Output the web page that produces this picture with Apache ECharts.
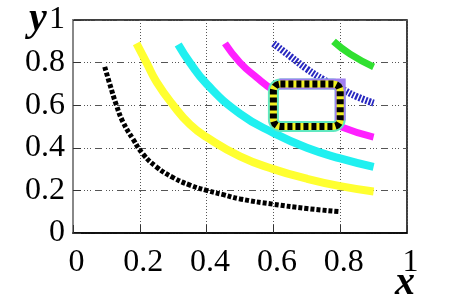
<!DOCTYPE html>
<html><head><meta charset="utf-8">
<script src="https://cdn.jsdelivr.net/npm/echarts@6/dist/echarts.min.js"></script>
<style>html,body{margin:0;padding:0;background:#fff}#c{width:462px;height:296px}</style>
</head><body><div id="c"></div>
<script>
var xTicks = ['0','0.2','0.4','0.6','0.8','1'];
var yTicks = ['0','0.2','0.4','0.6','0.8','1'];
var blackX = [0.095,0.11,0.13,0.15,0.18,0.21,0.25,0.3,0.35,0.4,0.45,0.5,0.6,0.7,0.8];
var blackY = [0.78,0.70,0.60,0.52,0.44,0.37,0.31,0.26,0.225,0.2,0.18,0.16,0.135,0.115,0.1];
var yellowX = [0.19,0.22,0.25,0.3,0.35,0.4,0.5,0.6,0.7,0.8,0.9];
var yellowY = [0.89,0.80,0.71,0.60,0.51,0.45,0.36,0.30,0.255,0.22,0.195];
var cyanX = [0.315,0.35,0.4,0.5,0.6,0.7,0.8,0.9];
var cyanY = [0.885,0.80,0.70,0.56,0.47,0.40,0.35,0.31];
var magentaX = [0.455,0.5,0.55,0.6,0.7,0.8,0.9];
var magentaY = [0.89,0.80,0.73,0.67,0.575,0.50,0.45];
var blueX = [0.6,0.65,0.7,0.75,0.8,0.85,0.9];
var blueY = [0.89,0.83,0.77,0.72,0.68,0.64,0.61];
var greenX = [0.78,0.83,0.9];
var greenY = [0.90,0.84,0.78];
var rectBox = [0.6,0.5,0.8,0.7];

function pts(xs, ys){ return xs.map(function(x,i){return [x, ys[i]];}); }
var chart = echarts.init(document.getElementById('c'));
var FONT = 'Liberation Serif';
function curve(name, xs, ys, color, width, dash){
  return {type:'line', name:name, data:pts(xs,ys), smooth:true, symbol:'none', z:3,
    lineStyle:{color:color, width:width, type: dash || 'solid', cap:'butt'}};
}
var labelStyle = {fontFamily:FONT, fontSize:32, fontWeight:'normal', color:'#000'};
chart.setOption({
  animation:false,
  backgroundColor:'#fff',
  textStyle:{fontFamily:FONT},
  grid:{left:73, right:55, top:20, bottom:63, show:true, borderColor:'#000', borderWidth:1.5, backgroundColor:'transparent'},
  xAxis:{type:'value', min:0, max:1, interval:0.2,
    axisLine:{show:true, lineStyle:{color:'#000', width:1.5}},
    axisTick:{show:true, inside:true, length:8, lineStyle:{color:'#333'}},
    axisLabel:Object.assign({margin:14, padding:[0,0,0,7], formatter:function(v){ return xTicks[Math.round(v/0.2)]; }}, labelStyle),
    splitLine:{show:true, lineStyle:{color:'#555', width:1, type:[1,2]}}},
  yAxis:{type:'value', min:0, max:1, interval:0.2,
    axisLine:{show:true, lineStyle:{color:'#888', width:2}},
    axisTick:{show:true, inside:true, length:8, lineStyle:{color:'#333'}},
    axisLabel:Object.assign({margin:8, formatter:function(v){ return yTicks[Math.round(v/0.2)]; }}, labelStyle),
    splitLine:{show:true, lineStyle:{color:'#555', width:1, type:[7,4,1,2,1,2,1,4]}}},
  graphic:[
    {type:'text', left:29, top:0, style:{text:'y', font:'italic bold 40px "Liberation Serif"', fill:'#000'}},
    {type:'text', left:395, top:264, style:{text:'x', font:'italic bold 40px "Liberation Serif"', fill:'#000'}}
  ],
  series:[
    curve('k', blackX, blackY, '#000', 5, [4,2]),
    curve('y', yellowX, yellowY, '#ffff30', 8),
    curve('c', cyanX, cyanY, '#20f0f0', 8),
    curve('m', magentaX, magentaY, '#ff20ff', 7),
    curve('b', blueX, blueY, '#2828c0', 7, [2,1.5]),
    curve('g', greenX, greenY, '#30e030', 7),
    {type:'custom', z:5, data:[rectBox],
      renderItem:function(params, api){
        var p0 = api.coord([api.value(0), api.value(3)]);
        var p1 = api.coord([api.value(2), api.value(1)]);
        var shape = {x:p0[0], y:p0[1], width:p1[0]-p0[0], height:p1[1]-p0[1], r:7};
        return {type:'group', children:[
          {type:'rect', shape:shape, style:{fill:'#fff', stroke:'#60e8c0', lineWidth:11}},
          {type:'polyline', shape:{points:[[p0[0]+6,p0[1]],[p1[0],p0[1]],[p1[0],p1[1]-6]]}, style:{fill:null, stroke:'#a080f0', lineWidth:11}},
          {type:'rect', shape:shape, style:{fill:null, stroke:'#f0f020', lineWidth:7}},
          {type:'rect', shape:shape, style:{fill:null, stroke:'#000', lineWidth:7, lineDash:[5,3]}}
        ]};
      }}
  ]
});
</script></body></html>
